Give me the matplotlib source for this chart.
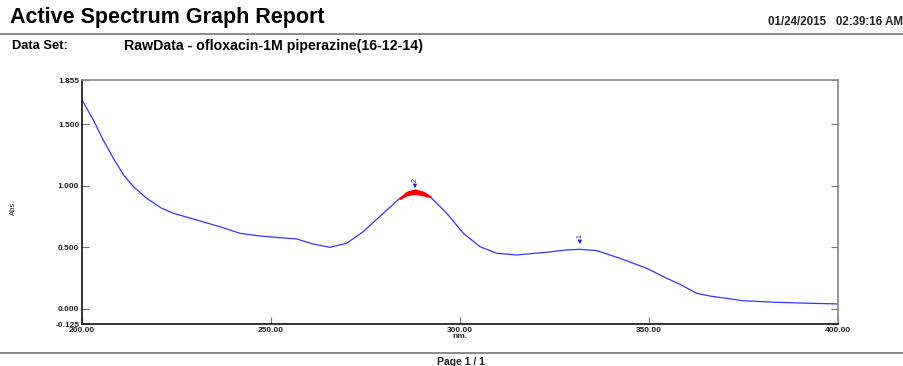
import numpy as np
import matplotlib.pyplot as plt

plt.rcParams['font.family'] = ['Liberation Sans', 'DejaVu Sans']

# spectrum read points (wavelength nm, absorbance)
wavelength = [200, 203, 205.6, 208.3, 211, 213.6, 217.1, 221.1, 224.2, 230.3,
              236.5, 241.8, 247.1, 252.4, 256.8, 261.2, 265.6, 270, 274.4, 279.7,
              284.1, 285.9, 288.1, 290.3, 292.1, 296.5, 300.9, 305.3, 309.7, 315,
              322.9, 328.2, 331.7, 336.2, 342.3, 349.4, 354.7, 358.2, 362.6, 366.1,
              374.9, 383.8, 392.6, 400]
absorbance = [1.695, 1.533, 1.371, 1.222, 1.087, 0.992, 0.898, 0.817, 0.776, 0.722,
              0.667, 0.614, 0.592, 0.578, 0.568, 0.527, 0.500, 0.533, 0.627, 0.776,
              0.898, 0.925, 0.938, 0.925, 0.911, 0.776, 0.614, 0.505, 0.452, 0.438,
              0.460, 0.479, 0.484, 0.473, 0.411, 0.330, 0.249, 0.200, 0.127, 0.105,
              0.067, 0.054, 0.046, 0.041]

# red band height over the picked peak
band_nm = [284.1, 285.9, 288.1, 290.3, 292.1]
band_height = [0.0, 0.022, 0.028, 0.022, 0.0]

# picked peaks
peak_labels = ['1', '2']
peak_nm = [331.7, 288.1]
peak_abs = [0.484, 0.938]

x_ticks = [200, 250, 300, 350, 400]
y_ticks = [-0.125, 0.0, 0.5, 1.0, 1.5, 1.855]

title = 'Active Spectrum Graph Report'
stamp = '01/24/2015   02:39:16 AM'
dataset = 'RawData - ofloxacin-1M piperazine(16-12-14)'

fig = plt.figure(figsize=(9.04, 3.66), dpi=100)
ax = fig.add_axes([0.0907, 0.1137, 0.8363, 0.6669])

wl = np.array(wavelength)
ab = np.array(absorbance)
ax.plot(wl, ab, color='#3535ff', lw=0.9)

# highlighted region around the main peak
band_base = np.array([ab[wavelength.index(v)] for v in band_nm])
ax.fill_between(band_nm, band_base, band_base + np.array(band_height),
                color='red', lw=1.5, edgecolor='red', zorder=3)

for lab, px, py in zip(peak_labels, peak_nm, peak_abs):
    ax.annotate('', xy=(px, py + 0.02), xytext=(px, py + 0.085),
                arrowprops=dict(arrowstyle='-|>', color='#2020ff', lw=0.8,
                                mutation_scale=5))
    ax.text(px, py + 0.09, lab, rotation=90, ha='center', va='bottom',
            fontsize=5, color='#2020ff')

ax.set_xlim(200, 400)
ax.set_ylim(-0.125, 1.855)
ax.set_xticks(x_ticks)
ax.set_xticklabels([f'{v:.2f}' for v in x_ticks])
ax.set_yticks(y_ticks)
ax.set_yticklabels([f'{v:.3f}' for v in y_ticks])
ax.tick_params(direction='in', length=5, width=0.8, color='#777777',
               labelsize=6, labelcolor='#222222', pad=2, top=False, right=True)
for lbl in ax.get_xticklabels() + ax.get_yticklabels():
    lbl.set_fontweight('bold')

for side in ['left', 'bottom']:
    ax.spines[side].set_color('#111111')
    ax.spines[side].set_linewidth(1.2)
for side in ['top', 'right']:
    ax.spines[side].set_color('#888888')
    ax.spines[side].set_linewidth(1.2)

ax.set_xlabel('nm.', fontsize=6, fontweight='bold', labelpad=-1, color='#222222')
ax.set_ylabel('Abs.', fontsize=5.5, color='#222222', va='center')
ax.yaxis.set_label_coords(-0.09, 0.48)

# report header and footer
fig.text(0.011, 0.953, title, fontsize=15.5, fontweight='bold', va='center')
fig.text(0.999, 0.94, stamp, fontsize=8.3, fontweight='bold', ha='right',
         va='center', color='#222222')
fig.add_artist(plt.Line2D([0, 1], [0.907, 0.907], color='#777777', lw=1.2))
fig.text(0.013, 0.873, 'Data Set:', fontsize=9.3, fontweight='bold', va='center')
fig.text(0.137, 0.873, dataset, fontsize=10.2, fontweight='bold', va='center')
fig.add_artist(plt.Line2D([0, 1], [0.036, 0.036], color='#777777', lw=1.2))
fig.text(0.51, 0.012, 'Page 1 / 1', fontsize=7.5, fontweight='bold', ha='center',
         va='center', color='#222222')

fig.savefig('out.png', dpi=100)
